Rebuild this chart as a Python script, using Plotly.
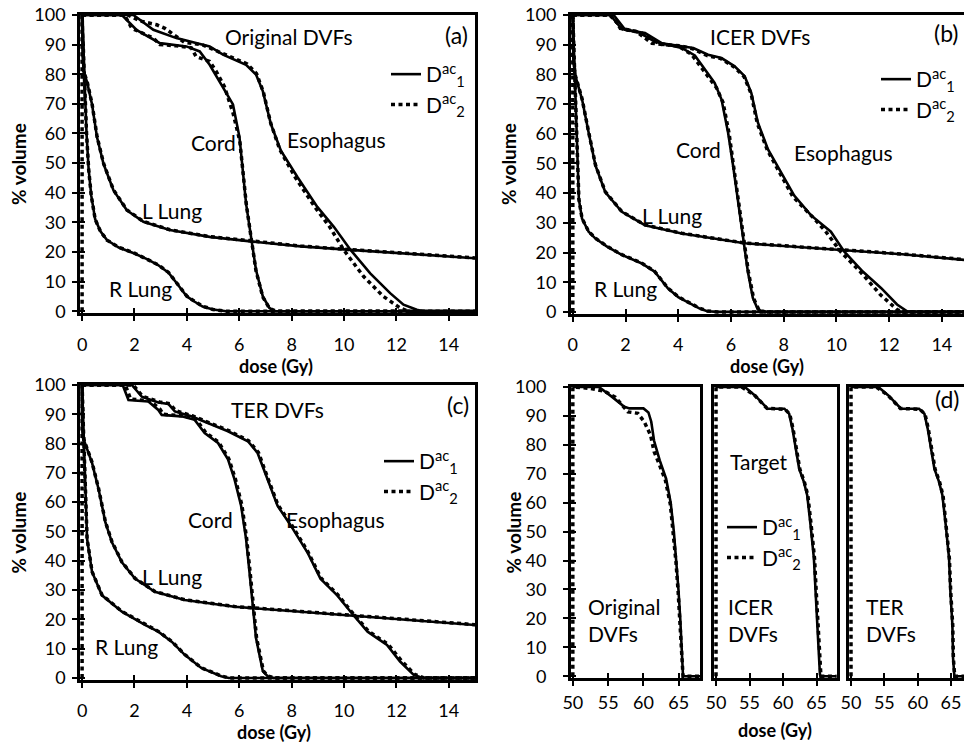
import plotly.graph_objects as go

# ---------------- data (dose in Gy, % volume) ----------------
# Panel (a) Original DVFs
a_cord_x1 = [0, 1.52, 2.09, 2.97, 3.98, 4.49, 4.87, 5.38, 5.76, 6.01, 6.14, 6.26, 6.45, 6.64, 6.9, 7.15, 7.35, 15]
a_cord_y1 = [100, 100, 94.9, 90.5, 89.4, 87.7, 83.2, 75.4, 69.8, 58.7, 47.5, 36.3, 25.1, 13.9, 5.0, 1.1, 0, 0]
a_cord_x2 = [0, 1.62, 1.9, 2.72, 2.97, 3.6, 4.17, 4.35, 4.87, 5.12, 5.43, 5.76, 6.02, 6.15, 6.27, 6.45, 6.64, 6.9, 7.15, 7.4, 15]
a_cord_y2 = [100, 100, 95.5, 92.2, 90.0, 89.6, 88.9, 86.0, 84.3, 81.0, 75.9, 67.0, 57.5, 47.0, 36.0, 25.0, 13.6, 4.8, 1.0, 0, 0]
a_eso_x1 = [0, 1.96, 2.72, 3.6, 4.87, 5.38, 6.26, 6.64, 6.9, 7.21, 7.59, 8.22, 8.98, 9.61, 10.25, 11.0, 11.76, 12.27, 12.78, 13.0, 15]
a_eso_y1 = [100, 100, 95, 92.2, 89.4, 86.6, 83.2, 79.9, 74.3, 63.1, 54.2, 45.3, 35.2, 28.5, 20.7, 12.8, 6.1, 2.2, 0.5, 0, 0]
a_eso_x2 = [0, 1.75, 2.2, 2.85, 3.16, 3.9, 4.6, 5.4, 6.3, 6.66, 6.92, 7.2, 7.55, 8.15, 8.9, 9.45, 9.99, 10.75, 11.5, 12.14, 12.45, 15]
a_eso_y2 = [100, 100, 98, 96.7, 95.5, 90.8, 89.9, 86.8, 83.5, 80.2, 74.0, 63.5, 54.5, 45.0, 35.0, 28.5, 20.7, 11.7, 5.0, 1.1, 0, 0]
a_ll_x1 = [0, 0.02, 0.06, 0.2, 0.38, 0.57, 0.82, 1.2, 1.71, 2.34, 3.35, 4.87, 6.52, 8.35, 10.25, 12.15, 15]
a_ll_y1 = [100, 86, 81, 77, 69.8, 58.7, 49.7, 40.8, 34.1, 30.2, 27.4, 25.1, 23.5, 21.9, 20.7, 19.6, 17.9]
a_ll_x2 = [0, 0.02, 0.06, 0.2, 0.38, 0.57, 0.82, 1.2, 1.71, 2.34, 3.35, 4.87, 6.52, 8.35, 10.25, 12.15, 15]
a_ll_y2 = [100, 86, 81, 77.2, 70.0, 59.0, 49.9, 40.9, 34.2, 30.3, 27.5, 25.2, 23.6, 22.0, 20.8, 19.7, 18.0]
a_rl_x1 = [0, 0.05, 0.1, 0.17, 0.25, 0.35, 0.5, 0.7, 0.95, 1.4, 2.0, 2.5, 2.9, 3.3, 3.6, 4.0, 4.3, 4.6, 5.0, 5.5, 15]
a_rl_y1 = [100, 88, 74, 60, 48, 39, 31, 27, 24, 21.5, 19.5, 17.5, 15.6, 13, 9.6, 5.0, 3.2, 1.6, 0.6, 0, 0]
a_rl_x2 = [0, 0, 0.05, 0.1, 0.17, 0.25, 0.35, 0.5, 0.7, 0.95, 1.4, 2.0, 2.5, 2.9, 3.3, 3.6, 4.0, 4.3, 4.6, 5.0, 5.5, 15]
a_rl_y2 = [0, 100, 88, 74, 60, 48, 39, 31, 27, 24, 21.6, 19.6, 17.6, 15.7, 13.1, 9.7, 5.1, 3.3, 1.7, 0.6, 0, 0]

# Panel (b) ICER DVFs
b_cord_x1 = [0, 1.42, 1.86, 2.49, 3.12, 4.13, 4.63, 5.0, 5.38, 5.64, 5.89, 6.08, 6.26, 6.45, 6.64, 6.83, 7.02, 7.25, 15]
b_cord_y1 = [100, 100, 95.3, 94.2, 91, 88.9, 86.4, 81.6, 77.1, 71.6, 60.4, 49.3, 38.1, 24.7, 13.6, 4.7, 0.8, 0, 0]
b_cord_x2 = [0, 1.5, 1.8, 2.4, 3.0, 4.0, 4.5, 5.13, 5.45, 5.7, 5.93, 6.1, 6.28, 6.47, 6.66, 6.86, 7.06, 7.3, 15]
b_cord_y2 = [100, 100, 95.5, 94.5, 90.5, 89.5, 86.8, 79.4, 75.5, 70.5, 60, 49, 38, 24.5, 13.5, 4.5, 0.7, 0, 0]
b_eso_x1 = [0, 1.55, 1.99, 2.74, 3.37, 4.13, 4.57, 5.13, 5.64, 6.14, 6.52, 6.77, 7.02, 7.4, 7.9, 8.4, 9.03, 9.79, 10.3, 11.0, 11.7, 12.3, 12.68, 12.9, 15]
b_eso_y1 = [100, 100, 95, 93.9, 90.5, 89.4, 88.9, 86.6, 85.5, 82.7, 79.4, 73.8, 63.8, 54.8, 47, 39.2, 32.6, 27, 20.3, 13.6, 8, 2.5, 0.2, 0, 0]
b_eso_x2 = [0, 1.4, 1.9, 2.6, 3.3, 4.1, 4.55, 5.1, 5.62, 6.12, 6.5, 6.76, 7.0, 7.38, 7.85, 8.35, 9.16, 9.6, 10.16, 10.9, 11.67, 12.3, 12.5, 15]
b_eso_y2 = [100, 100, 95.3, 94, 90.2, 89.6, 88.6, 86.3, 85.3, 82.5, 79.2, 73.6, 63.5, 54.5, 46.8, 38.8, 31.4, 27, 20.3, 13.6, 5.8, 0.8, 0, 0]
b_ll_x1 = [0, 0.02, 0.1, 0.35, 0.6, 0.86, 1.23, 1.86, 2.74, 4.13, 6.52, 8.4, 10.3, 12.5, 15]
b_ll_y1 = [100, 85, 79.4, 71.6, 60.4, 49.3, 40.4, 33.7, 29.2, 26.4, 23.1, 22.0, 20.8, 19.4, 17.4]
b_ll_x2 = [0, 0.02, 0.1, 0.35, 0.6, 0.86, 1.23, 1.86, 2.74, 4.13, 6.52, 8.4, 10.3, 12.5, 15]
b_ll_y2 = [100, 85, 79.5, 71.8, 60.6, 49.5, 40.5, 33.8, 29.3, 26.5, 23.2, 22.1, 20.9, 19.5, 17.5]
b_rl_x1 = [0, 0.05, 0.1, 0.16, 0.23, 0.35, 0.6, 0.86, 1.3, 1.86, 2.6, 3.1, 3.6, 4.0, 4.4, 4.8, 5.1, 5.5, 15]
b_rl_y1 = [100, 86, 70, 52, 38, 31.4, 27, 24.7, 22, 19.2, 16.4, 13.6, 8, 5, 3, 1.2, 0.2, 0, 0]
b_rl_x2 = [0, 0, 0.05, 0.1, 0.16, 0.23, 0.35, 0.6, 0.86, 1.3, 1.86, 2.6, 3.1, 3.6, 4.0, 4.4, 4.8, 5.1, 5.5, 15]
b_rl_y2 = [0, 100, 86, 70, 52, 38, 31.5, 27.1, 24.8, 22.1, 19.3, 16.5, 13.7, 8.1, 5.1, 3.1, 1.3, 0.3, 0, 0]

# Panel (c) TER DVFs
c_cord_x1 = [0, 1.55, 1.77, 2.53, 2.91, 3.04, 3.8, 4.3, 4.68, 5.19, 5.57, 5.82, 6.07, 6.26, 6.39, 6.51, 6.64, 6.9, 7.08, 7.3, 15]
c_cord_y1 = [100, 100, 94.9, 94.4, 91.5, 89.8, 89.3, 88.1, 83.6, 80.2, 74.6, 67.8, 58.8, 47.5, 36.2, 24.9, 13.6, 2.3, 0.6, 0, 0]
c_cord_x2 = [0, 1.65, 1.85, 2.6, 2.98, 3.1, 3.85, 4.35, 4.72, 5.22, 5.6, 5.85, 6.1, 6.28, 6.41, 6.53, 6.66, 6.92, 7.1, 7.35, 15]
c_cord_y2 = [100, 100, 95.2, 94.6, 91.7, 90.0, 89.5, 88.3, 83.8, 80.4, 74.8, 68.0, 59.0, 47.7, 36.4, 25.0, 13.7, 2.4, 0.6, 0, 0]
c_eso_x1 = [0, 1.9, 2.28, 2.91, 3.3, 3.54, 4.17, 4.81, 5.57, 6.33, 6.7, 7.08, 7.46, 7.97, 8.6, 9.1, 9.74, 10.25, 10.9, 11.64, 12.14, 12.65, 13.0, 15]
c_eso_y1 = [100, 100, 96, 94, 93.5, 91, 89.3, 87, 84.2, 80.8, 76.8, 67.8, 58.8, 52, 42.9, 33.9, 28.2, 22.6, 15.8, 11.3, 5.6, 1.1, 0, 0]
c_eso_x2 = [0, 1.95, 2.3, 2.95, 3.35, 3.58, 4.2, 4.83, 5.6, 6.35, 6.73, 7.1, 7.48, 8.0, 8.62, 9.12, 9.76, 10.27, 10.93, 11.68, 12.2, 12.7, 13.05, 15]
c_eso_y2 = [100, 100, 96.2, 94.2, 93.6, 91.2, 89.5, 87.2, 84.4, 81.0, 77.0, 68.0, 59.0, 52.2, 43.1, 34.1, 28.4, 22.8, 16.0, 11.5, 5.8, 1.2, 0, 0]
c_ll_x1 = [0, 0.02, 0.06, 0.38, 0.63, 0.89, 1.14, 1.52, 2.02, 2.78, 3.92, 5.82, 8.35, 10.9, 15]
c_ll_y1 = [100, 85, 81.4, 73.4, 64.4, 53.1, 46.3, 39.5, 33.9, 29.4, 26.6, 24.3, 22.6, 20.9, 18.1]
c_ll_x2 = [0, 0.02, 0.06, 0.38, 0.63, 0.89, 1.14, 1.52, 2.02, 2.78, 3.92, 5.82, 8.35, 10.9, 15]
c_ll_y2 = [100, 85, 81.5, 73.6, 64.6, 53.3, 46.5, 39.6, 34.0, 29.5, 26.7, 24.4, 22.7, 21.0, 18.2]
c_rl_x1 = [0, 0.05, 0.1, 0.19, 0.38, 0.76, 1.52, 2.4, 2.91, 3.42, 3.92, 4.55, 5.31, 5.6, 15]
c_rl_y1 = [100, 85, 68, 47.5, 36.2, 28.2, 22.6, 18.1, 15.8, 12.4, 7.9, 3.4, 0.6, 0, 0]
c_rl_x2 = [0, 0, 0.05, 0.1, 0.19, 0.38, 0.76, 1.52, 2.4, 2.91, 3.42, 3.92, 4.55, 5.31, 5.6, 15]
c_rl_y2 = [0, 100, 85, 68, 47.6, 36.3, 28.3, 22.7, 18.2, 15.9, 12.5, 8.0, 3.5, 0.7, 0, 0]

# Panel (d) Target (Original / ICER / TER DVFs)
d1_x1 = [50, 53.7, 55.6, 57.2, 58.0, 60.0, 60.7, 61.1, 61.5, 62.3, 63.2, 63.85, 64.3, 64.65, 64.95, 65.2, 65.4, 65.55, 65.6, 68]
d1_y1 = [100, 100, 96.5, 93.3, 92.6, 92.6, 91.2, 88, 81.4, 74.6, 68.3, 60, 50, 40, 30, 20, 10, 1, 0, 0]
d1_x2 = [50, 50, 52.5, 54.5, 56.0, 57.8, 59.2, 60.1, 61.0, 61.5, 62.2, 63.1, 63.8, 64.25, 64.6, 64.9, 65.15, 65.35, 65.5, 65.6, 68]
d1_y2 = [0, 100, 99.5, 98.5, 96.5, 91.4, 90.9, 88, 83.4, 77.7, 73.5, 67.8, 59.5, 49.5, 39.5, 29.5, 19.5, 9.5, 1, 0, 0]
d2_x1 = [50, 54.3, 55.8, 57.7, 60.2, 60.9, 61.4, 61.9, 62.4, 63.1, 63.6, 64.1, 64.6, 64.85, 65.1, 65.35, 65.5, 65.6, 68]
d2_y1 = [100, 100, 97.1, 92.5, 92.5, 90.8, 85.6, 78.7, 71.8, 67.2, 62.6, 52.3, 40.8, 29.3, 17.8, 6.3, 0.6, 0, 0]
d2_x2 = [50, 50, 53.8, 55.7, 57.6, 60.3, 61.0, 61.5, 62.0, 62.5, 63.2, 63.7, 64.2, 64.7, 64.95, 65.2, 65.42, 65.55, 65.65, 68]
d2_y2 = [0, 100, 100, 97.3, 92.6, 92.3, 90.6, 85.4, 78.5, 71.6, 67.0, 62.4, 52.1, 40.6, 29.1, 17.6, 6.1, 0.6, 0, 0]
d3_x1 = [50, 54.1, 55.6, 57.5, 60.2, 61.0, 61.5, 62.0, 62.5, 63.2, 63.7, 64.2, 64.7, 64.9, 65.2, 65.3, 65.4, 65.5, 68]
d3_y1 = [100, 100, 97.1, 92.5, 92.5, 90.8, 85.6, 78.7, 71.8, 67.2, 62.6, 52.3, 40.8, 29.3, 17.8, 6.3, 0.6, 0, 0]
d3_x2 = [50, 50, 53.8, 55.5, 57.4, 60.3, 61.1, 61.6, 62.1, 62.6, 63.3, 63.8, 64.25, 64.75, 64.95, 65.25, 65.35, 65.45, 65.55, 68]
d3_y2 = [0, 100, 100, 97.2, 92.6, 92.3, 90.6, 85.4, 78.5, 71.6, 67.0, 62.4, 52.1, 40.6, 29.1, 17.6, 6.1, 0.6, 0, 0]

series_names = ["D<sup>ac</sup><sub>1</sub>", "D<sup>ac</sup><sub>2</sub>"]

W, H = 964, 744
FONT = "Lato"

def px(x):
    return x / W

def py(y):
    return 1 - y / H

# plot-area geometry (pixels); ranges start a hair below the origin so the
# dotted series lying on the axes stays visible, as in the original
panels = {
    1: dict(x0=80, x1=475, y0=15, y1=313.3, rng=[-0.08, 15], dtick=2, tick0=0, ylab=True, right=True),
    2: dict(x0=570.7, x1=964, y0=15, y1=314, rng=[-0.08, 14.84], dtick=2, tick0=0, ylab=True, right=False),
    3: dict(x0=80, x1=475, y0=385, y1=680, rng=[-0.08, 15], dtick=2, tick0=0, ylab=True, right=True),
    4: dict(x0=570.7, x1=700, y0=387, y1=678.3, rng=[49.7, 68], dtick=5, tick0=50, ylab=True, right=True),
    5: dict(x0=714, x1=836.7, y0=387, y1=678.3, rng=[49.7, 68], dtick=5, tick0=50, ylab=False, right=True),
    6: dict(x0=849, x1=964, y0=387, y1=678.3, rng=[49.7, 66.94], dtick=5, tick0=50, ylab=False, right=False),
}
YR = [-0.7, 100]

fig = go.Figure()
layout = dict(width=W, height=H, margin=dict(l=0, r=0, t=0, b=0, autoexpand=False),
              plot_bgcolor="white", paper_bgcolor="white",
              font=dict(family=FONT, color="black"), showlegend=True)

tickfont = dict(family=FONT, size=18, color="black")
for i, p in panels.items():
    xd = [px(p["x0"]), min(1.0, px(p["x1"]))]
    yd = [py(p["y1"]), py(p["y0"])]
    sfx = "" if i == 1 else str(i)
    layout["xaxis" + sfx] = dict(domain=xd, range=p["rng"], tickmode="linear", tick0=p["tick0"], dtick=p["dtick"],
                                 ticks="outside", ticklen=5, tickwidth=2, tickcolor="black",
                                 showline=True, linewidth=2.5, linecolor="black", mirror=True,
                                 showgrid=False, zeroline=False, anchor="y" + sfx, tickfont=tickfont,
                                 ticklabelstandoff=8 if i <= 3 else 1, fixedrange=True)
    layout["yaxis" + sfx] = dict(domain=yd, range=YR, tickmode="linear", tick0=0, dtick=10,
                                 ticks="outside" if p["ylab"] else "", ticklen=5, tickwidth=2, tickcolor="black",
                                 showticklabels=p["ylab"],
                                 showline=True, linewidth=2.5, linecolor="black", mirror=p["right"],
                                 showgrid=False, zeroline=False, anchor="x" + sfx, tickfont=tickfont,
                                 ticklabelstandoff=3 if i <= 3 else 13, fixedrange=True)
    # overlay axes for the inner half of the crossing tick marks
    j = i + 6
    layout["xaxis%d" % j] = dict(overlaying="x" + sfx, anchor="y%d" % j, range=p["rng"], tickmode="linear",
                                 tick0=p["tick0"], dtick=p["dtick"], ticks="inside", ticklen=5, tickwidth=2,
                                 tickcolor="black", showticklabels=False, showline=False, showgrid=False,
                                 zeroline=False, fixedrange=True)
    layout["yaxis%d" % j] = dict(overlaying="y" + sfx, anchor="x%d" % j, range=YR, tickmode="linear",
                                 tick0=0, dtick=10, ticks="inside" if p["ylab"] else "", ticklen=5, tickwidth=2,
                                 tickcolor="black", showticklabels=False, showline=False, showgrid=False,
                                 zeroline=False, fixedrange=True)
    fig.add_trace(go.Scatter(x=[None], y=[None], xaxis="x%d" % j, yaxis="y%d" % j, showlegend=False,
                             hoverinfo="skip", mode="lines"))

SOLID = dict(color="black", width=2.6)
DOT = dict(color="black", width=3.5, dash="4px,3.5px")

def add(xs, ys, i, style, legend=None, show=False, name=""):
    sfx = "" if i == 1 else str(i)
    fig.add_trace(go.Scatter(x=xs, y=ys, xaxis="x" + sfx, yaxis="y" + sfx, mode="lines",
                             line=style, name=name, showlegend=show,
                             legend=legend if legend else "legend", hoverinfo="skip"))

panel_curves = {
    1: [(a_ll_x1, a_ll_y1, a_ll_x2, a_ll_y2), (a_rl_x1, a_rl_y1, a_rl_x2, a_rl_y2),
        (a_cord_x1, a_cord_y1, a_cord_x2, a_cord_y2), (a_eso_x1, a_eso_y1, a_eso_x2, a_eso_y2)],
    2: [(b_ll_x1, b_ll_y1, b_ll_x2, b_ll_y2), (b_rl_x1, b_rl_y1, b_rl_x2, b_rl_y2),
        (b_cord_x1, b_cord_y1, b_cord_x2, b_cord_y2), (b_eso_x1, b_eso_y1, b_eso_x2, b_eso_y2)],
    3: [(c_ll_x1, c_ll_y1, c_ll_x2, c_ll_y2), (c_rl_x1, c_rl_y1, c_rl_x2, c_rl_y2),
        (c_cord_x1, c_cord_y1, c_cord_x2, c_cord_y2), (c_eso_x1, c_eso_y1, c_eso_x2, c_eso_y2)],
    4: [(d1_x1, d1_y1, d1_x2, d1_y2)],
    5: [(d2_x1, d2_y1, d2_x2, d2_y2)],
    6: [(d3_x1, d3_y1, d3_x2, d3_y2)],
}
legend_of = {1: "legend", 2: "legend2", 3: "legend3", 5: "legend4"}

for i, curves in panel_curves.items():
    for k, (x1, y1, x2, y2) in enumerate(curves):
        lg = legend_of.get(i)
        add(x1, y1, i, SOLID, lg, show=(lg is not None and k == 0), name=series_names[0])
        add(x2, y2, i, DOT, lg, show=(lg is not None and k == 0), name=series_names[1])

# legends (top-left corner in pixels)
leg_pos = {"legend": (386, 54), "legend2": (876, 59), "legend3": (379, 441), "legend4": (722, 507)}
for key, (lx, ly) in leg_pos.items():
    layout[key] = dict(x=px(lx), y=py(ly), xanchor="left", yanchor="top", bgcolor="rgba(0,0,0,0)",
                       font=dict(family=FONT, size=21, color="black"), itemwidth=30,
                       tracegroupgap=0, traceorder="normal")

# text labels
ann = []
def text(t, x, y, xref, yref, size=21, xanchor="center", align="center"):
    ann.append(dict(text=t, x=x, y=y, xref=xref, yref=yref, showarrow=False, xanchor=xanchor,
                    yanchor="middle", align=align, font=dict(family=FONT, size=size, color="black")))

text("Original DVFs", 7.9, 92.7, "x", "y")
text("(a)", 14.3, 93.3, "x", "y", size=23)
text("Cord", 5.0, 57.1, "x", "y")
text("Esophagus", 9.72, 58.1, "x", "y")
text("L Lung", 3.42, 33.9, "x", "y")
text("R Lung", 2.24, 7.8, "x", "y")

text("ICER DVFs", 7.1, 92.7, "x2", "y2")
text("(b)", 14.16, 94, "x2", "y2", size=23)
text("Cord", 4.77, 54.8, "x2", "y2")
text("Esophagus", 10.28, 53.8, "x2", "y2")
text("L Lung", 3.75, 32.4, "x2", "y2")
text("R Lung", 2.0, 8, "x2", "y2")

text("TER DVFs", 7.47, 91.5, "x3", "y3")
text("(c)", 14.35, 93.2, "x3", "y3", size=23)
text("Cord", 4.9, 54.2, "x3", "y3")
text("Esophagus", 9.68, 54.2, "x3", "y3")
text("L Lung", 3.42, 34.7, "x3", "y3")
text("R Lung", 1.7, 10.8, "x3", "y3")

text("Original<br>DVFs", 51.9, 19.4, "x4", "y4", xanchor="left", align="left")
text("Target", 56.4, 74.3, "x5", "y5")
text("ICER<br>DVFs", 51.5, 19.4, "x5", "y5", xanchor="left", align="left")
text("TER<br>DVFs", 51.9, 19.4, "x6", "y6", xanchor="left", align="left")
text("(d)", 64.4, 95.9, "x6", "y6", size=23)

# axis titles
def ytitle(xp, yp):
    ann.append(dict(text="<b>% volume</b>", x=px(xp), y=py(yp), xref="paper", yref="paper", showarrow=False,
                    textangle=-90, xanchor="center", yanchor="middle", font=dict(family=FONT, size=19, color="black")))

def xtitle(xp, yp):
    ann.append(dict(text="<b>dose (Gy)</b>", x=px(xp), y=py(yp), xref="paper", yref="paper", showarrow=False,
                    xanchor="center", yanchor="middle", font=dict(family=FONT, size=18, color="black")))

ytitle(18, 164)
ytitle(508, 164)
ytitle(18, 532.5)
ytitle(513, 532.5)
xtitle(276, 366)
xtitle(767, 366)
xtitle(274, 732)
xtitle(775, 730)

layout["annotations"] = ann
fig.update_layout(**layout)
fig.write_html("out.html")
